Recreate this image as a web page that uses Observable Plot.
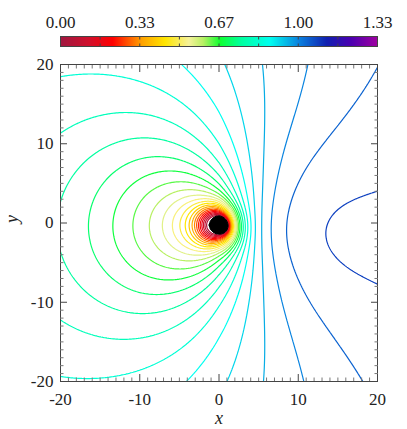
<!DOCTYPE html>
<html><head><meta charset="utf-8">
<script src="https://cdn.jsdelivr.net/npm/d3@7"></script>
<script src="https://cdn.jsdelivr.net/npm/@observablehq/plot@0.6"></script>
<style>
body{margin:0;background:#fff;}
#chart{width:407px;height:429px;}
svg{display:block;}
svg text{font-family:"Liberation Serif","DejaVu Serif",serif !important;}
</style></head><body><div id="chart"></div>
<script>
// ---- colour bar ----
const cbTickValues = [0, 1/3, 2/3, 1, 4/3];
const cbTickLabels = ["0.00", "0.33", "0.67", "1.00", "1.33"];
const cbMinorTicks = [1/6, 2/6, 3/6, 4/6, 5/6, 6/6, 7/6];
const colorStops = [0, 0.12, 0.22, 0.34, 0.44, 0.54, 0.6, 0.67, 0.76, 0.88, 1.0, 1.12, 1.22, 1.333];
const colorHex = ["#a01840", "#d0102c", "#ff0000", "#ffa000", "#ffe600", "#f6f29a", "#b8f064", "#10ff30", "#00ffa0", "#00fff0", "#0a84e0", "#1020b0", "#4a00b0", "#a000a0"];

// ---- contour levels ----
const contourLevels = [0.04, 0.08, 0.12, 0.16, 0.20, 0.24, 0.28, 0.32, 0.36, 0.40, 0.44, 0.48, 0.52, 0.56, 0.60, 0.64, 0.68, 0.72, 0.76, 0.80, 0.84, 0.88, 0.92, 0.96, 1.00, 1.04, 1.08];

// ---- field shape parameters ----
const holeRadius = [1.15];
const radialProfile = [1.035, 0.995, 0.7];       // A(r) = a - k r^-p
const nearProfile = [0.133, 1.8];                // depth, width of near-hole drop
const dipoleProfile = [0.235, 0.115, 18, 3];     // B(r): near, far, turnover radius, steepness
const quadProfile = [0.012, 12];                 // C(r) = q r^2 / (r^2 + rq^2)
const centreShift = [-0.25, -0.035, -0.045];     // y-centre: c0 + c1 x + c2 |x|

// ---- axes ----
const axisMajor = [-20, -10, 0, 10, 20];
const axisMinor = [-19,-18,-17,-16,-15,-14,-13,-12,-11,-9,-8,-7,-6,-5,-4,-3,-2,-1,1,2,3,4,5,6,7,8,9,11,12,13,14,15,16,17,18,19];

function field(x, y) {
  const rh = holeRadius[0];
  const yc = centreShift[0] + centreShift[1] * x + centreShift[2] * Math.abs(x);
  const dy = y - yc;
  const rTrue = Math.hypot(x, dy);
  const r = Math.max(rTrue, 0.4);
  const c = rTrue > 1e-9 ? x / rTrue : 0;
  const A = radialProfile[0] - radialProfile[1] * Math.pow(r, -radialProfile[2])
    - nearProfile[0] * Math.exp(-Math.pow((r - rh) / nearProfile[1], 2));
  const taper = Math.max(0, 1 - Math.pow(rh / r, 3));
  const B = (dipoleProfile[1] + (dipoleProfile[0] - dipoleProfile[1]) / (1 + Math.pow(r / dipoleProfile[2], dipoleProfile[3]))) * taper;
  const C = quadProfile[0] * r * r / (r * r + quadProfile[1] * quadProfile[1]);
  return A + B * c + C * c * c;
}

const colorScale = {type: "linear", domain: colorStops, range: colorHex, clamp: true};
const font = {fontFamily: "'Liberation Serif', 'DejaVu Serif', serif", fontSize: "17px", color: "#222", background: "white"};

const bar = Plot.plot({
  width: 407, height: 52,
  marginTop: 36, marginBottom: 6, marginLeft: 60, marginRight: 30,
  x: {domain: [0, 4/3]},
  y: {domain: [0, 1], axis: null},
  color: colorScale,
  style: font,
  marks: [
    Plot.raster({x1: 0, x2: 4/3, y1: 0, y2: 1, fill: (x, y) => x, pixelSize: 1}),
    Plot.frame({stroke: "#444"}),
    Plot.axisX(cbMinorTicks, {anchor: "bottom", tickSize: -2.5, text: null, label: null, stroke: "#444"}),
    Plot.axisX(cbMinorTicks, {anchor: "top", tickSize: -2.5, text: null, label: null, stroke: "#444"}),
    Plot.axisX(cbTickValues, {anchor: "top", tickSize: 0, tickPadding: 9, label: null,
      tickFormat: d => cbTickLabels[cbTickValues.indexOf(d)]})
  ]
});

const main = Plot.plot({
  width: 407, height: 377,
  marginTop: 12, marginBottom: 48, marginLeft: 60, marginRight: 30,
  x: {domain: [-20, 20]},
  y: {domain: [-20, 20]},
  color: colorScale,
  style: font,
  marks: [
    Plot.contour({x1: -21, x2: 21, y1: -21, y2: 21, value: field, thresholds: contourLevels,
      stroke: "value", fill: "none", strokeWidth: 1.2, pixelSize: 1, clip: true}),
    Plot.contour({x1: -21, x2: 21, y1: -21, y2: 21, value: (x, y) => -field(x, y), thresholds: [0],
      fill: "black", stroke: "black", pixelSize: 1, clip: true}),
    Plot.frame({stroke: "#444"}),
    Plot.axisX(axisMinor, {anchor: "bottom", tickSize: -3.5, text: null, label: null, stroke: "#777"}),
    Plot.axisX(axisMinor, {anchor: "top", tickSize: -3.5, text: null, label: null, stroke: "#777"}),
    Plot.axisY(axisMinor, {anchor: "left", tickSize: -3.5, text: null, label: null, stroke: "#777"}),
    Plot.axisY(axisMinor, {anchor: "right", tickSize: -3.5, text: null, label: null, stroke: "#777"}),
    Plot.axisX(axisMajor, {anchor: "top", tickSize: -7, text: null, label: null, stroke: "#444"}),
    Plot.axisY(axisMajor, {anchor: "right", tickSize: -7, text: null, label: null, stroke: "#444"}),
    Plot.axisX(axisMajor, {anchor: "bottom", tickSize: -7, tickPadding: 18, label: null, stroke: "#444", tickFormat: d => String(d)}),
    Plot.axisY(axisMajor, {anchor: "left", tickSize: -7, tickPadding: 14, label: null, stroke: "#444", tickFormat: d => String(d)}),
    Plot.text(["x"], {frameAnchor: "bottom", dy: 42, fontStyle: "italic", fontSize: 18, fill: "#222"}),
    Plot.text(["y"], {frameAnchor: "left", dx: -48, rotate: -90, fontStyle: "italic", fontSize: 18, fill: "#222"})
  ]
});

const root = document.getElementById("chart");
root.appendChild(bar);
root.appendChild(main);
</script></body></html>
